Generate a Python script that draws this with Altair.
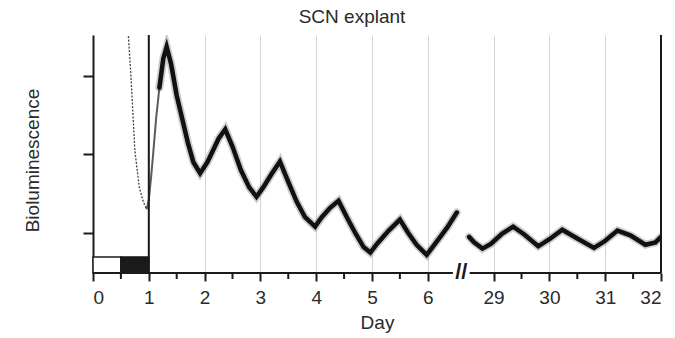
import altair as alt
import pandas as pd

TITLE = "SCN explant"
X_TITLE = "Day"
Y_TITLE = "Bioluminescence"

# Days after the axis break are drawn shifted left by this many days
BREAK_SHIFT = 21.82
BREAK_POS = 6.6
Y_MIN, Y_MAX = 0.49, 3.52

tick_days = [0, 1, 2, 3, 4, 5, 6, 29, 30, 31, 32]
minor_days = [0.5, 1.5, 2.5, 3.5, 4.5, 5.5, 29.5, 30.5, 31.5]
y_ticks = [1, 2, 3]
border_days = [1, 32]
axis_seg_start = [0, 6.75 + BREAK_SHIFT]
axis_seg_end = [6.45, 32]

# light/dark bar (white = light, black = dark)
ld_start = [0, 0.5]
ld_end = [0.5, 1.0]
ld_top = 0.695
ld_fill = ["white", "#1a1a1a"]

# early transient after explant (thin dotted trace, falling)
pre_day = [0.63, 0.68, 0.75, 0.83, 0.90, 0.96]
pre_val = [3.55, 3.00, 2.05, 1.58, 1.40, 1.30]

# rebound rise (thin solid trace)
rise_day = [0.96, 1.00, 1.04, 1.08, 1.13, 1.19, 1.24]
rise_val = [1.30, 1.42, 1.70, 2.02, 2.45, 2.85, 3.12]

# days 1.2 - 6.5
seg1_day = [1.19, 1.26, 1.32, 1.40, 1.50, 1.60, 1.70, 1.80, 1.92, 2.05, 2.15, 2.25, 2.37,
            2.50, 2.65, 2.80, 2.93, 3.05, 3.20, 3.35, 3.50, 3.65, 3.80, 3.98,
            4.10, 4.25, 4.40, 4.55, 4.70, 4.85, 4.97, 5.10, 5.30, 5.50,
            5.65, 5.80, 5.98, 6.15, 6.35, 6.52]
seg1_val = [2.85, 3.22, 3.37, 3.15, 2.75, 2.45, 2.15, 1.90, 1.76, 1.90, 2.05, 2.20, 2.32,
            2.10, 1.80, 1.58, 1.46, 1.58, 1.75, 1.91, 1.65, 1.40, 1.20, 1.08,
            1.20, 1.32, 1.41, 1.20, 1.00, 0.82, 0.75, 0.87, 1.03, 1.17,
            1.00, 0.85, 0.72, 0.88, 1.07, 1.26]

# days 28.5 - 32
seg2_day = [28.56, 28.65, 28.80, 28.95, 29.15, 29.35, 29.55, 29.80, 30.00, 30.23,
            30.50, 30.80, 31.00, 31.22, 31.45, 31.72, 31.90, 32.00]
seg2_val = [0.95, 0.88, 0.80, 0.86, 0.99, 1.08, 0.98, 0.83, 0.92, 1.04,
            0.93, 0.81, 0.90, 1.03, 0.97, 0.85, 0.88, 0.95]


def pos(d):
    return d - BREAK_SHIFT if d > 15 else d


def frame(days, vals=None):
    df = pd.DataFrame({"pos": [pos(d) for d in days]})
    if vals is not None:
        df["val"] = vals
    return df


FONT = "Liberation Sans"
FS = 19
TXT = "#2a2a2a"

xscale = alt.Scale(domain=[0, pos(32)], nice=False, zero=False)
yscale = alt.Scale(domain=[Y_MIN, Y_MAX], nice=False, zero=False)

x_axis = alt.Axis(
    values=[pos(d) for d in tick_days],
    labelExpr=f"datum.value > {BREAK_POS} ? format(datum.value + {BREAK_SHIFT}, '.0f') : format(datum.value, '.0f')",
    domain=False, grid=True, gridColor="#d4d4d4", gridWidth=1,
    ticks=True, tickSize=8, tickWidth=2, tickColor="#1a1a1a",
    labelFontSize=FS, labelColor=TXT, labelPadding=7, labelFont=FONT,
    title=X_TITLE, titleFontSize=FS, titleFontWeight="normal", titleColor=TXT,
    titleFont=FONT, titlePadding=6,
)
y_axis = alt.Axis(
    values=y_ticks, labels=False, grid=False,
    domain=True, domainColor="#1a1a1a", domainWidth=2,
    ticks=True, tickSize=10, tickWidth=2, tickColor="#1a1a1a",
    title=Y_TITLE, titleFontSize=FS, titleFontWeight="normal", titleColor=TXT,
    titleFont=FONT, titlePadding=40, titleY=125,
)

X = alt.X("pos:Q", scale=xscale, axis=x_axis)
Y = alt.Y("val:Q", scale=yscale, axis=y_axis)

# base layer carrying axes (the thin transient trace)
pre = alt.Chart(frame(pre_day, pre_val)).mark_line(
    color="#444", strokeWidth=1.3, strokeDash=[2, 1.5], clip=True
).encode(x=X, y=Y)

rise = alt.Chart(frame(rise_day, rise_val)).mark_line(
    color="#333", strokeWidth=2, opacity=0.8, clip=True
).encode(x=X, y=Y)

def thick(days, vals):
    df = frame(days, vals)
    halo = alt.Chart(df).mark_line(color="#555", strokeWidth=8, opacity=0.3, clip=True,
                                   strokeCap="round").encode(x=X, y=Y)
    core = alt.Chart(df).mark_line(color="#111", strokeWidth=4.5, clip=True,
                                   strokeCap="round").encode(x=X, y=Y)
    return halo + core

borders = alt.Chart(frame(border_days)).mark_rule(color="#1a1a1a", strokeWidth=2).encode(x=X)

ld_df = pd.DataFrame({"pos": ld_start, "x2": ld_end, "fill": ld_fill})
ld = alt.Chart(ld_df).mark_rect(stroke="#1a1a1a", strokeWidth=1.5).encode(
    x=X, x2="x2:Q", y=alt.datum(Y_MIN, scale=yscale), y2=alt.datum(ld_top),
    fill=alt.Fill("fill:N", scale=None),
)

axis_df = pd.DataFrame({"pos": [pos(d) for d in axis_seg_start], "x2": [pos(d) for d in axis_seg_end]})
axis_line = alt.Chart(axis_df).mark_rule(color="#1a1a1a", strokeWidth=2).encode(
    x=X, x2="x2:Q", y=alt.datum(Y_MIN, scale=yscale)
)

minor = alt.Chart(frame(minor_days)).mark_rule(color="#1a1a1a", strokeWidth=2).encode(
    x=X, y=alt.datum(Y_MIN, scale=yscale), y2=alt.value(244)
)

brk = alt.Chart(pd.DataFrame({"pos": [BREAK_POS]})).mark_text(
    text="//", fontSize=22, font=FONT, fontWeight="bold", color="#1a1a1a",
    baseline="middle", align="center", dy=-1
).encode(x=X, y=alt.datum(Y_MIN, scale=yscale))

chart = alt.layer(
    pre, rise, thick(seg1_day, seg1_val), thick(seg2_day, seg2_val),
    borders, ld, axis_line, minor, brk
).properties(
    width=568, height=238,
    title=alt.TitleParams(TITLE, fontSize=FS, fontWeight="normal", color=TXT, font=FONT,
                          anchor="middle", dx=-25, offset=7),
    autosize=alt.AutoSizeParams(type="none"),
    padding={"left": 85, "top": 27, "right": 6, "bottom": 60},
).configure_view(stroke=None)

chart.save("out.html", embed_options={"renderer": "svg", "actions": False})
